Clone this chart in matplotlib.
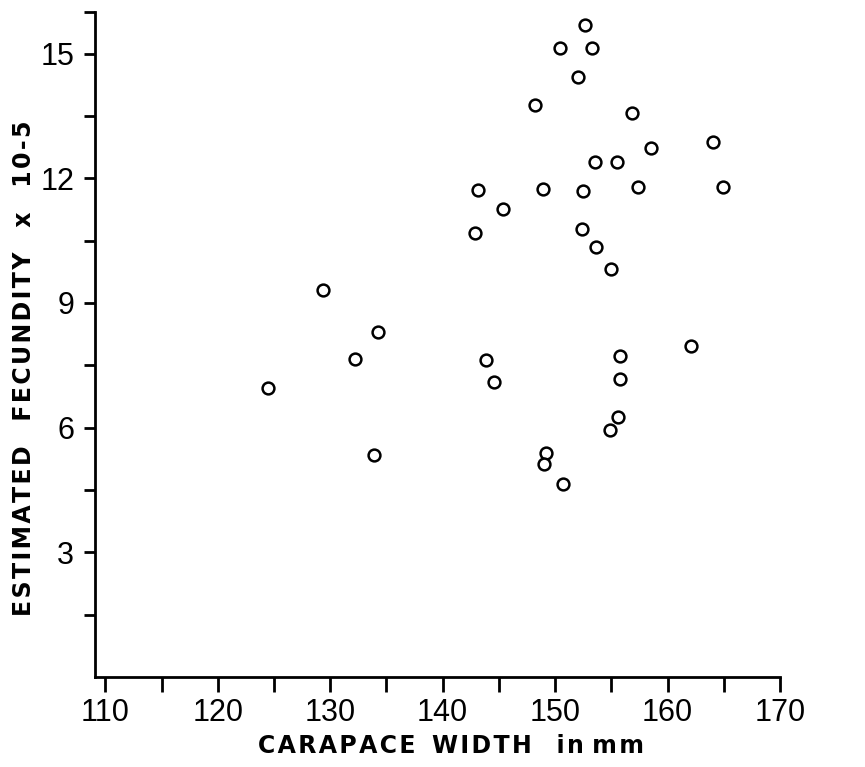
"""Estimated fecundity against carapace width, scatter of open circles."""
import matplotlib

matplotlib.use("Agg")
from matplotlib import pyplot as plt
from matplotlib.ticker import FixedLocator

# carapace width (mm) and estimated fecundity (x 10^-5)
carapace_width = [
    152.65, 150.43, 153.28, 152.03, 148.21, 156.83, 164.04, 158.52, 153.54,
    155.50, 143.14, 148.92, 152.48, 157.37, 164.92, 145.36, 142.87, 152.39,
    153.63, 154.97, 124.47, 129.36, 134.25, 132.20, 133.89, 143.85, 144.56,
    155.77, 155.77, 155.59, 154.88, 149.19, 149.01, 150.70, 162.08,
]
fecundity = [
    15.69, 15.13, 15.13, 14.44, 13.76, 13.57, 12.87, 12.73, 12.39,
    12.39, 11.72, 11.74, 11.69, 11.79, 11.79, 11.26, 10.68, 10.78,
    10.35, 9.82, 6.95, 9.31, 8.30, 7.65, 5.34, 7.63, 7.10,
    7.72, 7.17, 6.26, 5.94, 5.39, 5.13, 4.64, 7.96,
]

x_major = [110, 120, 130, 140, 150, 160, 170]
x_minor = [115, 125, 135, 145, 155, 165]
y_major = [3, 6, 9, 12, 15]
y_minor = [1.5, 4.5, 7.5, 10.5, 13.5, 16]


def spaced(words, gap, word_gap):
    """Widen the letter spacing by putting a narrow space between letters."""
    return word_gap.join(gap.join(word) for word in words)


plt.rcParams["font.family"] = ["Liberation Sans", "DejaVu Sans"]

fig = plt.figure(figsize=(8.65, 7.67), dpi=100)
ax = fig.add_axes([95 / 865, 1 - 677 / 767, 685 / 865, 665 / 767])

ax.plot(carapace_width, fecundity, "o", color="black", markerfacecolor="white",
        markersize=8.5, markeredgewidth=1.8, linestyle="none")

ax.set_xlim(109.08, 170)
ax.set_ylim(0, 16)

for side in ["top", "right"]:
    ax.spines[side].set_visible(False)
for side in ["left", "bottom"]:
    ax.spines[side].set_linewidth(2)

ax.xaxis.set_major_locator(FixedLocator(x_major))
ax.xaxis.set_minor_locator(FixedLocator(x_minor))
ax.yaxis.set_major_locator(FixedLocator(y_major))
ax.yaxis.set_minor_locator(FixedLocator(y_minor))

ax.tick_params(axis="x", which="both", direction="out", length=11, width=2,
               pad=4, labelsize=22)
ax.tick_params(axis="y", which="both", direction="out", length=8, width=2,
               pad=7, labelsize=22)

xlabel = (spaced(["CARAPACE", "WIDTH"], "\u200a", "  ") + "   "
          + spaced(["in", "mm"], "\u200a", " "))
ylabel = spaced(["ESTIMATED", "FECUNDITY", "x", "10-5"], "\u200a", "   ")

fig.text(451 / 865, 1 - 753 / 767, xlabel, ha="center", va="baseline",
         fontsize=17, fontweight="bold", family="DejaVu Sans")
fig.text(24 / 865, 1 - 368 / 767, ylabel, ha="center", va="center",
         rotation=90, fontsize=17, fontweight="bold", family="DejaVu Sans")

fig.savefig("out.png", dpi=100)
